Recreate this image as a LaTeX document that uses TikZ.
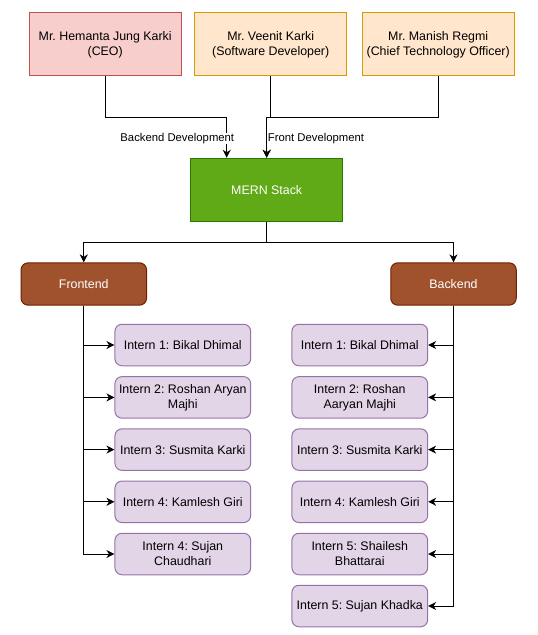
\documentclass[tikz,border=0pt]{standalone}
\usepackage{fontspec}
\setmainfont{Liberation Sans}
\usetikzlibrary{arrows.meta}
\frenchspacing

\definecolor{ceofill}{HTML}{F8CECC}
\definecolor{ceoline}{HTML}{B85450}
\definecolor{devfill}{HTML}{FFE6CC}
\definecolor{devline}{HTML}{D79B00}
\definecolor{mernfill}{HTML}{60A917}
\definecolor{mernline}{HTML}{2D7600}
\definecolor{teamfill}{HTML}{A0522D}
\definecolor{teamline}{HTML}{6D1F00}
\definecolor{internfill}{HTML}{E1D5E7}
\definecolor{internline}{HTML}{9673A6}

\begin{document}
\begin{tikzpicture}[x=1pt, y=-1pt, line width=1pt,
    font=\fontsize{12.4}{15}\selectfont\frenchspacing,
    person/.style={draw, align=center, minimum width=151.7pt, minimum height=63.3pt, inner sep=1pt},
    stack/.style={draw=mernline, fill=mernfill, text=white, minimum width=152pt, minimum height=63.4pt},
    team/.style={draw=teamline, fill=teamfill, text=white, rounded corners=7pt, minimum width=125.5pt, minimum height=42.3pt},
    intern/.style={draw=internline, fill=internfill, rounded corners=7pt, align=center, minimum width=135.7pt, minimum height=41.5pt, inner sep=1pt},
    edgelabel/.style={font=\fontsize{11.3}{13}\selectfont, fill=white, inner sep=0pt},
    link/.style={draw=black, -{Stealth[length=8pt, width=8pt, inset=2.5pt]}}
]
        \useasboundingbox (0,0) rectangle (538,635);

        % Top row
        \node[person, draw=ceoline, fill=ceofill] (ceo) at (105.2,44.3) {Mr. Hemanta Jung Karki\\(CEO)};
        \node[person, draw=devline, fill=devfill] (dev) at (270.7,44.3) {Mr. Veenit Karki\\(Software Developer)};
        \node[person, draw=devline, fill=devfill] (cto) at (438.2,44.3) {Mr. Manish Regmi\\(Chief Technology Officer)};

        % Stack
        \node[stack] (mern) at (266.7,190) {MERN Stack};

        \draw[link] (ceo.south) -- ++(0,41.3) -| ([xshift=-40pt]mern.north);
        \draw[link] (dev.south) -- ++(0,41.3) -| (mern.north);
        \draw[link] (cto.south) -- ++(0,41.3) -| (mern.north);

        \node[edgelabel] (backlbl) at (177.3,138.3) {Backend Development};
        \node[edgelabel] (frontlbl) at (316,139) {Front Development};

        % Teams
        \node[team] (front) at (83.8,284) {Frontend};
        \node[team] (back) at (453.5,284) {Backend};

        \draw[link] (mern.south) -- ++(0,20.6) -| (front.north);
        \draw[link] (mern.south) -- ++(0,20.6) -| (back.north);

        % Frontend interns
        \foreach \n/\y/\txt in {1/345/{Intern 1: Bikal Dhimal},
                                2/397.4/{Intern 2: Roshan Aryan\\Majhi},
                                3/449.6/{Intern 3: Susmita Karki},
                                4/501.8/{Intern 4: Kamlesh Giri},
                                5/554/{Intern 4: Sujan\\Chaudhari}} {
            \node[intern] (fi\n) at (182.8,\y) {\txt};
            \draw[link] (front.south) |- (fi\n.west);
        }

        % Backend interns
        \foreach \n/\y/\txt in {1/345/{Intern 1: Bikal Dhimal},
                                2/397.4/{Intern 2: Roshan\\Aaryan Majhi},
                                3/449.6/{Intern 3: Susmita Karki},
                                4/501.8/{Intern 4: Kamlesh Giri},
                                5/554/{Intern 5: Shailesh\\Bhattarai},
                                6/606/{Intern 5: Sujan Khadka}} {
            \node[intern] (bi\n) at (359.8,\y) {\txt};
            \draw[link] (back.south) |- (bi\n.east);
        }

\end{tikzpicture}
\end{document}
